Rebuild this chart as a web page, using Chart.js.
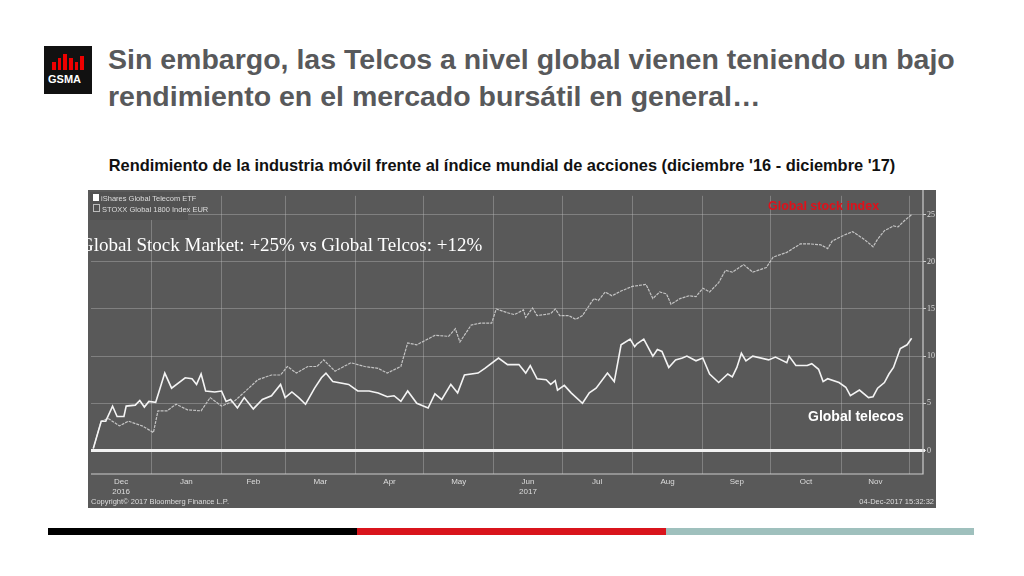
<!DOCTYPE html>
<html><head><meta charset="utf-8">
<script src="https://cdn.jsdelivr.net/npm/chart.js@4"></script>
<style>
body{margin:0;width:1024px;height:576px;background:#fff;position:relative;overflow:hidden;font-family:"Liberation Sans",Arial,sans-serif}
.abs{position:absolute;white-space:nowrap}
#title{left:108px;top:41px;font-size:28.5px;font-weight:bold;color:#58595b;line-height:37px}
#sub{left:91px;top:156px;width:822px;text-align:center;font-size:16.4px;font-weight:bold;color:#111}
#box{left:88px;top:190px;width:848px;height:318px;background:#595959;overflow:hidden}
.bar{top:528px;height:7px}
.sm{color:#ddd;font-size:7.5px;font-family:'Liberation Sans Narrow',Arial}
</style></head><body>
<div class="abs" style="left:44px;top:46px;width:48px;height:48px;background:#111">
  <div class="abs" style="left:8px;top:6px;width:32px;height:18px;display:flex;gap:2px;align-items:flex-end">
    <div style="width:4px;height:8px;background:#e00"></div><div style="width:4px;height:12px;background:#e00"></div><div style="width:4px;height:16px;background:#e00"></div><div style="width:4px;height:12px;background:#e00"></div><div style="width:4px;height:8px;background:#e00"></div><div style="width:4px;height:14px;background:#e00"></div>
  </div>
  <div class="abs" style="left:4px;top:27px;color:#fff;font-size:11px;font-weight:bold">GSMA</div>
</div>
<div id="title" class="abs">Sin embargo, las Telcos a nivel global vienen teniendo un bajo<br>rendimiento en el mercado bursátil en general…</div>
<div id="sub" class="abs">Rendimiento de la industria móvil frente al índice mundial de acciones (diciembre '16 - diciembre '17)</div>
<div id="box" class="abs">
  <canvas id="c" width="848" height="318"></canvas>
  <div class="abs sm" style="left:2px;top:2px;width:92px;height:24px;background:#525252;line-height:10px;padding:2px 3px">
    <span style="display:inline-block;width:6px;height:7px;background:#fff"></span> iShares Global Telecom ETF<br>
    <span style="display:inline-block;width:5px;height:6px;border:1px solid #bbb"></span> STOXX Global 1800 Index EUR
  </div>
  <div class="abs" style="left:-8px;top:44px;color:#fff;font-family:'Liberation Serif','Times New Roman',serif;font-size:19px">Global Stock Market: +25% vs Global Telcos: +12%</div>
  <div class="abs" style="left:680px;top:9px;color:#e0101a;font-size:12.5px;font-weight:bold">Global stock index</div>
  <div class="abs" style="left:720px;top:218px;color:#fff;font-size:14px;font-weight:bold">Global telecos</div>
  <div class="abs sm" style="left:3px;top:307px">Copyright© 2017 Bloomberg Finance L.P.</div>
  <div class="abs sm" style="right:2px;top:307px">04-Dec-2017 15:32:32</div>
</div>
<div class="abs bar" style="left:48px;width:309px;background:#000"></div>
<div class="abs bar" style="left:357px;width:309px;background:#d9141c"></div>
<div class="abs bar" style="left:666px;width:308px;background:#9fc0bd"></div>
<script>
// x = days since 1 Jan 2017
const telcoDays=[-25.5,-22,-20,-17,-15,-12,-11,-7,-5,-3,-1,2,6,9,15,18,20,22,24,28,31,33,35,38,41,45,49,53,57,59,62,65,68,72,75,77,80,87,91,96,100,104,107,110,113,117,122,125,128,132,135,138,144,147,153,157,162,165,167,170,174,176,178,179,182,185,190,193,196,201,204,207,211,213,214,217,221,223,225,228,231,234,236,240,243,246,250,254,256,258,260,262,265,272,275,280,281,284,289,291,294,296,298,303,306,308,312,316,318,320,323,325,327,330,333,335];
const telcoValues=[0.2,3.1,3.1,4.7,3.6,3.6,4.7,4.8,5.3,4.6,5.2,5.1,8.2,6.6,7.7,7.6,7.0,8.1,6.3,6.2,6.3,5.2,5.4,4.5,5.6,4.4,5.4,5.8,7.0,5.6,6.2,5.6,4.9,6.6,7.7,8.2,7.3,7.0,6.3,6.3,6.1,5.7,5.8,5.2,6.3,5.0,4.5,6.0,5.4,7.0,6.1,8.0,8.2,8.7,9.8,9.1,9.1,8.2,9.0,7.6,7.5,7.0,7.4,6.4,6.9,6.1,5.0,6.1,6.6,8.2,7.3,11.2,11.8,11.0,11.3,11.8,10.0,10.7,10.5,8.8,9.6,9.8,10.0,9.5,9.8,8.1,7.2,8.1,7.8,8.8,10.3,9.5,10.0,9.6,9.9,9.3,10.0,9.0,9.0,9.2,8.6,7.3,7.6,7.2,6.7,5.8,6.4,5.6,5.7,6.6,7.2,8.1,8.8,10.8,11.2,11.9];
const stockDays=[-25.5,-22,-19,-14,-10,-4,1,3,7,11,16,22,26,31,37,43,47,53,57,60,64,69,73,76,81,88,94,100,104,110,113,117,125,131,134,136,141,145,150,152,157,160,164,165,168,170,176,178,180,184,187,190,195,197,200,203,207,212,218,221,224,227,229,233,237,240,243,246,250,253,256,261,265,271,274,280,286,290,295,298,300,305,309,314,318,320,323,327,329,332,335];
const stockValues=[0.2,3.1,3.4,2.6,3.1,2.6,1.9,4.2,4.2,4.9,4.3,4.2,5.6,4.7,5.3,6.6,7.5,8.0,8.0,8.9,8.2,8.9,8.9,9.6,8.4,9.3,8.9,8.7,8.2,8.9,11.4,11.2,12.2,12.1,12.9,11.5,13.3,13.5,13.5,15.0,14.6,14.4,14.9,14.1,15.1,14.3,14.5,15.0,14.3,14.3,13.9,14.3,16.1,15.9,16.8,16.4,16.9,17.4,17.6,16.1,16.8,16.6,15.5,16.1,16.4,16.3,17.2,16.8,17.8,19.1,18.9,19.7,18.9,19.4,20.5,21.0,21.9,21.9,21.8,21.4,22.2,22.8,23.2,22.4,21.6,22.4,23.3,23.8,23.7,24.4,25.0];
const monthBounds=[-31,0,31,59,90,120,151,181,212,243,273,304,334];
const monthLabels=["Dec","Jan","Feb","Mar","Apr","May","Jun","Jul","Aug","Sep","Oct","Nov"];
const yearLabels={0:"2016",6:"2017"};
const yTicks=[0,5,10,15,20,25];

const pts=(d,v)=>d.map((x,i)=>({x,y:v[i]}));
const labelPlugin={id:'lbl',afterDraw(ch){
  const c=ch.ctx,x=ch.scales.x,a=ch.chartArea;
  c.save();c.fillStyle='#ddd';c.font='8px "Liberation Sans Narrow", Arial';c.textAlign='center';
  monthLabels.forEach((m,i)=>{
    const px=(Math.max(x.getPixelForValue(monthBounds[i]),a.left)+Math.min(x.getPixelForValue(monthBounds[i+1]),a.right))/2;
    c.fillText(m,px,a.bottom+10);
    if(yearLabels[i])c.fillText(yearLabels[i],px,a.bottom+20);
  });
  const y0=ch.scales.y.getPixelForValue(0);
  c.strokeStyle='#f2f2f2';c.lineWidth=3;c.beginPath();c.moveTo(a.left,y0);c.lineTo(a.right+2,y0);c.stroke();
  c.strokeStyle='#ccc';c.lineWidth=1.2;c.beginPath();c.moveTo(a.left,a.bottom);c.lineTo(a.right,a.bottom);c.lineTo(a.right,0);c.stroke();
  c.restore();
}};
new Chart(document.getElementById('c'),{
  type:'line',
  data:{datasets:[
    {data:pts(telcoDays,telcoValues),borderColor:'#f4f4f4',borderWidth:1.6,pointRadius:0,tension:0},
    {data:pts(stockDays,stockValues),borderColor:'#c4c4c4',borderWidth:1.2,borderDash:[3,1],pointRadius:0,tension:0}
  ]},
  options:{responsive:false,animation:false,
    layout:{padding:{left:3,top:0,right:0,bottom:0}},
    plugins:{legend:{display:false},tooltip:{enabled:false}},
    scales:{
      x:{type:'linear',min:-26.5,max:340,afterBuildTicks(s){s.ticks=monthBounds.slice(1).map(v=>({value:v}));},
        grid:{color:'rgba(200,200,200,0.35)',lineWidth:1,drawTicks:false},border:{display:false},
        ticks:{display:false},afterFit(s){s.height=34;}},
      y:{position:'right',min:-2.5,max:27,afterBuildTicks(s){s.ticks=yTicks.map(v=>({value:v}));},
        grid:{color:'rgba(200,200,200,0.35)',tickLength:3,tickColor:'#ccc'},border:{display:false},
        ticks:{color:'#ddd',font:{size:8,family:'Liberation Sans Narrow'},padding:1},afterFit(s){s.width=13;}}
    }},
  plugins:[labelPlugin]
});
</script>
</body></html>
